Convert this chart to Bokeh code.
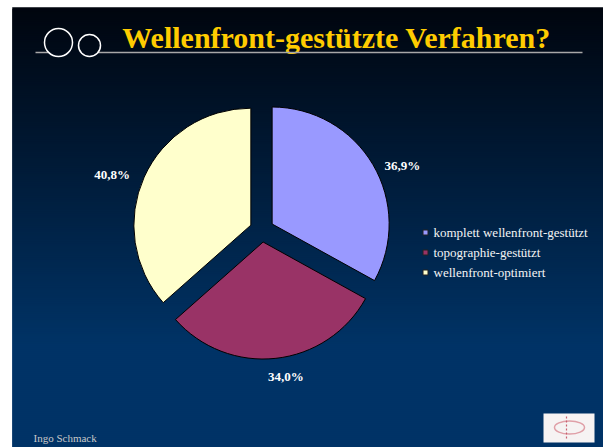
import math
from bokeh.plotting import figure
from bokeh.models import Range1d
from bokeh.core.properties import value
from bokeh.embed import file_html
from bokeh.resources import INLINE

# ---- data ----
title = "Wellenfront-gestützte Verfahren?"
categories = ["komplett wellenfront-gestützt", "topographie-gestützt", "wellenfront-optimiert"]
values = [36.9, 34.0, 40.8]
value_labels = ["36,9%", "34,0%", "40,8%"]
footer = "Ingo Schmack"

# ---- styles / layout ----
colors = ["#9999FF", "#993366", "#FFFFCC"]
W, H = 603, 447


def sy(v):             # screen y (from top of page) -> data y
    return H - v


p = figure(width=W, height=H, output_backend="svg", toolbar_location=None,
           x_range=Range1d(0, W), y_range=Range1d(0, H),
           min_border=0, background_fill_color="white", border_fill_color="white")
p.axis.visible = False
p.grid.visible = False
p.outline_line_color = None

# slide background gradient (black -> dark blue)
tops, bots, cols = [], [], []
top_c = (0, 5, 14)
bot_c = (0, 51, 102)
g0, g1 = 7, 345
y = 7
while y < H:
    t = min(max((y + 1 - g0) / (g1 - g0), 0), 1)
    c = tuple(int(round(a + (b - a) * t)) for a, b in zip(top_c, bot_c))
    cols.append("#%02x%02x%02x" % c)
    tops.append(sy(y))
    bots.append(sy(min(y + 3, H)))
    y += 2
p.quad(left=12, right=W, top=tops, bottom=bots, fill_color=cols, line_color=cols,
       line_width=0.5)

# title
p.text(x=[336], y=[sy(37)], text=[title], text_color="#FFCC00",
       text_font=value("Liberation Serif"), text_font_style="bold",
       text_font_size="30px", text_align="center", text_baseline="alphabetic")

# decoration: line with two circles
p.segment(x0=[35, 97.5], y0=[sy(52), sy(52)], x1=[48.2, 582], y1=[sy(52), sy(52)],
          line_color="#a8a8a8", line_width=1.5)
p.circle(x=[58, 89], y=[sy(42), sy(45)], radius=[14, 11], fill_alpha=0,
         line_color="white", line_width=1.5)

# pie (exploded)
cx, cy, R, d = 261.3, sy(229.6), 117, 12
total = sum(values)
starts, ends, xs, ys, mids = [], [], [], [], []
cum = 0.0
for v in values:
    fr = v / total * 2 * math.pi
    e = math.pi / 2 - cum
    s = e - fr
    m = (s + e) / 2
    cum += fr
    starts.append(s)
    ends.append(e)
    mids.append(m)
    xs.append(cx + d * math.cos(m))
    ys.append(cy + d * math.sin(m))

p.wedge(x=xs, y=ys, radius=R, start_angle=starts, end_angle=ends,
        direction="anticlock", fill_color=colors, line_color="black", line_width=1)

# value labels
label_r = 150
nudges = [(11.5, -11.6), (7.7, 2.8), (-13, -6)]
lx = [cx + label_r * math.cos(m) + n[0] for m, n in zip(mids, nudges)]
ly = [cy + label_r * math.sin(m) + n[1] for m, n in zip(mids, nudges)]
p.text(x=lx, y=ly, text=value_labels, text_color="white",
       text_font=value("Liberation Serif"), text_font_style="bold",
       text_font_size="13px", text_align="center", text_baseline="middle")

# legend
leg_x, leg_y, leg_dy = 425, 232, 20
lys = [sy(leg_y + i * leg_dy) for i in range(len(categories))]
p.rect(x=[leg_x] * len(categories), y=lys, width=5, height=5,
       fill_color=colors, line_color="#222222", line_width=1)
p.text(x=[leg_x + 8] * len(categories), y=lys, text=categories, text_color="#f4f4f4",
       text_font=value("Liberation Serif"), text_font_size="13px",
       text_align="left", text_baseline="middle")

# footer
p.text(x=[33], y=[sy(437)], text=[footer], text_color="#c8c8c8",
       text_font=value("Liberation Serif"), text_font_size="11px",
       text_align="left", text_baseline="middle")

# logo box (decorative)
p.quad(left=[543], right=[594], top=[sy(413)], bottom=[sy(442)],
       fill_color="#f6f3f3", line_color=None)
p.ellipse(x=[569], y=[sy(427)], width=[30], height=[13], fill_alpha=0,
          line_color="#e0a0a8", line_width=1.5)
p.segment(x0=[566], y0=[sy(416)], x1=[566], y1=[sy(439)],
          line_color="#c86070", line_width=1.2, line_dash="2 2")

open("out.html", "w").write(file_html(p, INLINE))
